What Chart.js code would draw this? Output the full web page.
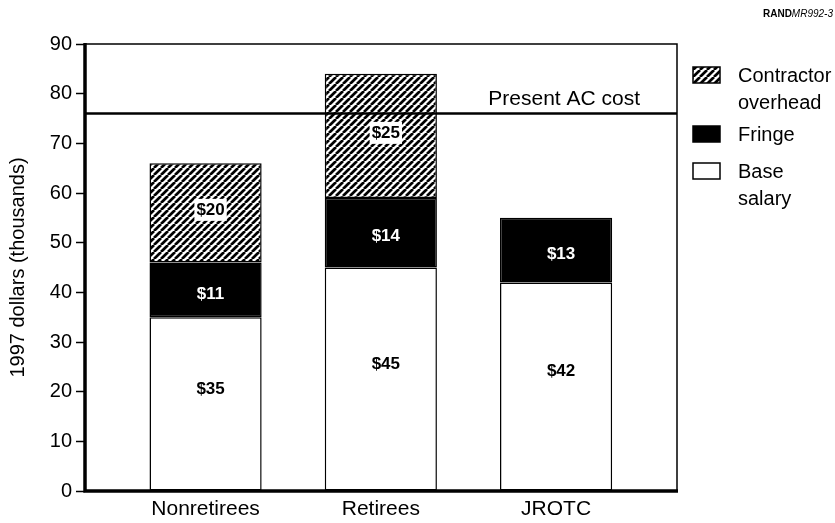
<!DOCTYPE html>
<html>
<head>
<meta charset="utf-8">
<script src="https://cdn.jsdelivr.net/npm/chart.js@4.4.0/dist/chart.umd.min.js"></script>
<style>
html,body{margin:0;padding:0;background:#fff;}
</style>
</head>
<body>
<canvas id="myChart" width="835" height="523"></canvas>
<script>
/*------------------------------------------------------------------------------------------------*/
//datos
const categories = ['Nonretirees', 'Retirees', 'JROTC'];
const baseSalary = [35, 45, 42];
const fringe = [11, 14, 13];
const contractor = [20, 25, 0];
const baseLabels = ['$35', '$45', '$42'];
const fringeLabels = ['$11', '$14', '$13'];
const contractorLabels = ['$20', '$25', ''];
const presentAC = 76;
const yMax = 90;
const yStep = 10;

const FONT = '"Liberation Sans", Arial, Helvetica, sans-serif';

/*------------------------------------------------------------------------------------------------*/
//rayado
const makeHatch = () => {
    const s = 7;
    const c = document.createElement('canvas');
    c.width = s; c.height = s;
    const g = c.getContext('2d');
    g.fillStyle = '#fff';
    g.fillRect(0, 0, s, s);
    g.strokeStyle = '#000';
    g.lineWidth = 2.7;
    g.beginPath();
    for (let k = -1; k <= 1; k++) {
        g.moveTo(k * s, s);
        g.lineTo(k * s + s, 0);
    }
    g.stroke();
    return g.createPattern(c, 'repeat');
};
const hatch = makeHatch();

const toPoints = arr => arr.map((v, i) => ({x: i + 1, y: v}));

/*------------------------------------------------------------------------------------------------*/
//plugin: marco, linea AC, etiquetas, leyenda
const extras = {
    id: 'extras',
    afterDatasetsDraw(chart) {
        const ctx = chart.ctx;
        const {left, right, top, bottom} = chart.chartArea;
        const yS = chart.scales.y;

        // etiquetas de barras
        const setups = [
            {labels: baseLabels, color: '#000', box: false, dy: -15},
            {labels: fringeLabels, color: '#fff', box: false, dy: 4},
            {labels: contractorLabels, color: '#000', box: true, dy: -3}
        ];
        ctx.save();
        ctx.font = 'bold 17px ' + FONT;
        ctx.textAlign = 'center';
        ctx.textBaseline = 'middle';
        chart.data.datasets.forEach((ds, di) => {
            const meta = chart.getDatasetMeta(di);
            const st = setups[di];
            meta.data.forEach((bar, i) => {
                const txt = st.labels[i];
                if (!txt) return;
                const x = bar.x + 5;
                const y = (bar.y + bar.base) / 2 + st.dy;
                if (st.box) {
                    const w = ctx.measureText(txt).width + 4;
                    ctx.fillStyle = '#fff';
                    ctx.fillRect(x - w / 2, y - 11, w, 22);
                }
                ctx.fillStyle = st.color;
                ctx.fillText(txt, x, y);
            });
        });
        ctx.restore();

        // linea Present AC cost
        const yAC = yS.getPixelForValue(presentAC);
        ctx.save();
        ctx.strokeStyle = '#000';
        ctx.lineWidth = 2.5;
        ctx.beginPath();
        ctx.moveTo(left, yAC);
        ctx.lineTo(right, yAC);
        ctx.stroke();
        ctx.fillStyle = '#000';
        ctx.font = '21px ' + FONT;
        ctx.textAlign = 'right';
        ctx.textBaseline = 'bottom';
        ctx.fillText('Present AC cost', right - 37, yAC - 4);

        // marco
        ctx.lineWidth = 1.5;
        ctx.beginPath();
        ctx.moveTo(left, top);
        ctx.lineTo(right, top);
        ctx.lineTo(right, bottom);
        ctx.stroke();
        ctx.lineWidth = 3.5;
        ctx.beginPath();
        ctx.moveTo(left, top - 1);
        ctx.lineTo(left, bottom);
        ctx.lineTo(right + 1, bottom);
        ctx.stroke();
        ctx.restore();
    },
    afterDraw(chart) {
        const ctx = chart.ctx;
        const {right} = chart.chartArea;
        ctx.save();
        // leyenda
        const rows = [75, 134, 171];
        const fills = [hatch, '#000', '#fff'];
        const order = [2, 1, 0];
        ctx.font = '20px ' + FONT;
        ctx.textBaseline = 'middle';
        ctx.textAlign = 'left';
        order.forEach((di, k) => {
            const ds = chart.data.datasets[di];
            const bx = right + 16, by = rows[k] - 8;
            ctx.fillStyle = fills[k];
            ctx.fillRect(bx, by, 27, 16);
            ctx.strokeStyle = '#000';
            ctx.lineWidth = 1.5;
            ctx.strokeRect(bx, by, 27, 16);
            ctx.fillStyle = '#000';
            ds.label.split(' ').forEach((w, j) => {
                ctx.fillText(w, right + 61, rows[k] + 1 + j * 27);
            });
        });
        // RAND
        ctx.textBaseline = 'middle';
        ctx.textAlign = 'right';
        ctx.font = 'italic 10px ' + FONT;
        const tail = 'MR992-3';
        const tw = ctx.measureText(tail).width;
        ctx.fillText(tail, 833, 14);
        ctx.font = 'bold 10px ' + FONT;
        ctx.fillText('RAND', 833 - tw, 14);
        ctx.restore();
    }
};

/*------------------------------------------------------------------------------------------------*/
//grafico
const ctx = document.getElementById('myChart');
const myChart = new Chart(ctx, {
    type: 'bar',
    data: {
        datasets: [{
            label: 'Base salary',
            data: toPoints(baseSalary),
            backgroundColor: '#fff',
            borderColor: '#000',
            borderWidth: 1.5,
            borderSkipped: false
        }, {
            label: 'Fringe',
            data: toPoints(fringe),
            backgroundColor: '#000',
            borderColor: '#000',
            borderWidth: 1.5,
            borderSkipped: false
        }, {
            label: 'Contractor overhead',
            data: toPoints(contractor),
            backgroundColor: hatch,
            borderColor: '#000',
            borderWidth: 1.5,
            borderSkipped: false
        }]
    },
    options: {
        responsive: false,
        animation: false,
        barPercentage: 0.64,
        categoryPercentage: 1,
        layout: {padding: {top: 44, right: 158, bottom: 0, left: 0}},
        plugins: {legend: {display: false}, tooltip: {enabled: false}},
        scales: {
            x: {
                type: 'linear',
                min: 0.312,
                max: 3.69,
                offset: false,
                stacked: true,
                grid: {display: false, offset: false},
                border: {display: false},
                afterBuildTicks: s => { s.ticks = categories.map((c, i) => ({value: i + 1})); },
                afterFit: s => { s.height = 32; },
                ticks: {
                    autoSkip: false,
                    maxRotation: 0,
                    padding: -2,
                    color: '#000',
                    font: {family: FONT, size: 21},
                    callback: v => categories[v - 1]
                }
            },
            y: {
                stacked: true,
                min: 0,
                max: yMax,
                border: {display: false},
                grid: {drawOnChartArea: false, drawTicks: true, tickLength: 9, tickWidth: 1.5, tickColor: '#000'},
                afterFit: s => { s.width = 85; },
                ticks: {
                    stepSize: yStep,
                    padding: 4,
                    color: '#000',
                    font: {family: FONT, size: 20}
                },
                title: {
                    display: true,
                    text: '1997 dollars (thousands)',
                    color: '#000',
                    font: {family: FONT, size: 20},
                    padding: {top: 6, bottom: 0}
                }
            }
        }
    },
    plugins: [extras]
});
</script>
</body>
</html>
